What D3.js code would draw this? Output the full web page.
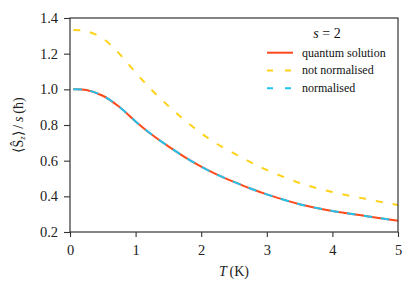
<!DOCTYPE html>
<html>
<head>
<meta charset="utf-8">
<script src="https://cdn.jsdelivr.net/npm/d3@7"></script>
<style>
  body { margin: 0; background: #fff; }
</style>
</head>
<body>
<div id="container"></div>
<script>
// temperatures (K) and <Sz>/s
const temps = [0.05, 0.25, 0.5, 0.75, 1, 1.25, 1.5, 1.75, 2, 2.25, 2.5, 2.75, 3, 3.5, 4, 4.5, 5];
const quantum = [1.0, 0.996, 0.964, 0.902, 0.82, 0.745, 0.68, 0.62, 0.566, 0.52, 0.481, 0.444, 0.411, 0.356, 0.318, 0.29, 0.263];
const notNormalised = [1.333, 1.326, 1.285, 1.2, 1.094, 0.995, 0.907, 0.826, 0.754, 0.692, 0.641, 0.592, 0.548, 0.475, 0.424, 0.386, 0.351];
const normalised = quantum.slice();
const xTicks = [0, 1, 2, 3, 4, 5];
const yTicks = [0.2, 0.4, 0.6, 0.8, 1.0, 1.2, 1.4];

const series = [
  { name: 'quantum solution', values: quantum, color: '#ff4a1c', dash: null },
  { name: 'not normalised', values: notNormalised, color: '#ffd21a', dash: '7,10' },
  { name: 'normalised', values: normalised, color: '#22c4ee', dash: '8.5,8.5' }
];

const FONT = 'Liberation Serif';

let width = 415, height = 294;
let margin = { top: 18, right: 17, bottom: 62, left: 70 };
let innerW = width - margin.left - margin.right;
let innerH = height - margin.top - margin.bottom;

let svg = d3.select('#container').append('svg')
  .attr('width', width)
  .attr('height', height)
  .attr('font-family', FONT);

let x = d3.scaleLinear().domain([0, 5]).range([margin.left, margin.left + innerW]);
let y = d3.scaleLinear().domain([0.2, 1.4]).range([margin.top + innerH, margin.top]);

// lines
let line = d3.line()
  .x((d) => x(d[0]))
  .y((d) => y(d[1]))
  .curve(d3.curveCatmullRom.alpha(0.5));

series.forEach((s) => {
  svg.append('path')
    .datum(temps.map((t, i) => [t, s.values[i]]))
    .attr('d', line)
    .attr('fill', 'none')
    .attr('stroke', s.color)
    .attr('stroke-width', 2)
    .attr('stroke-dasharray', s.dash);
});

// frame
svg.append('rect')
  .attr('x', margin.left)
  .attr('y', margin.top)
  .attr('width', innerW)
  .attr('height', innerH)
  .attr('fill', 'none')
  .attr('stroke', '#333')
  .attr('stroke-width', 1.2);

let xAxis = svg.append('g')
  .attr('transform', `translate(0,${margin.top + innerH})`)
  .call(d3.axisBottom(x).tickValues(xTicks).tickFormat(d3.format('d')).tickSize(5).tickPadding(8));

let yAxis = svg.append('g')
  .attr('transform', `translate(${margin.left},0)`)
  .call(d3.axisLeft(y).tickValues(yTicks).tickFormat(d3.format('.1f')).tickSize(6).tickPadding(6));

[xAxis, yAxis].forEach((g) => {
  g.attr('font-family', FONT).attr('font-size', 14.5);
  g.select('.domain').remove();
  g.selectAll('line').attr('stroke', '#333').attr('stroke-width', 1.1);
  g.selectAll('text').attr('fill', '#222');
});

// axis labels
let xLabel = svg.append('text')
  .attr('x', x(2.5))
  .attr('y', 276)
  .attr('text-anchor', 'middle')
  .attr('fill', '#222')
  .attr('font-size', 14);
xLabel.append('tspan').attr('font-style', 'italic').text('T');
xLabel.append('tspan').text('\u2009(K)');

let yLabel = svg.append('text')
  .attr('transform', `translate(23,${margin.top + innerH / 2}) rotate(-90)`)
  .attr('text-anchor', 'middle')
  .attr('fill', '#222')
  .attr('font-size', 14);
yLabel.append('tspan').text('\u27E8');
yLabel.append('tspan').text('\u015C');
yLabel.append('tspan').attr('font-style', 'italic').attr('font-size', 8.5).attr('dy', 2).text('z');
yLabel.append('tspan').attr('dy', -2).text('\u27E9\u2009/\u2009');
yLabel.append('tspan').attr('font-style', 'italic').text('s');
yLabel.append('tspan').text('\u2009(\u0127)');

// legend
let legend = svg.append('g');
let title = legend.append('text')
  .attr('x', 327)
  .attr('y', 37.5)
  .attr('text-anchor', 'middle')
  .attr('fill', '#111')
  .attr('font-size', 14);
title.append('tspan').attr('font-style', 'italic').text('s');
title.append('tspan').text(' = 2');

series.forEach((s, i) => {
  let yy = 52.7 + i * 17.8;
  legend.append('line')
    .attr('x1', 267)
    .attr('x2', 293)
    .attr('y1', yy)
    .attr('y2', yy)
    .attr('stroke', s.color)
    .attr('stroke-width', 2)
    .attr('stroke-dasharray', s.dash ? '6,12' : null);
  legend.append('text')
    .attr('x', 302)
    .attr('y', yy + 3.8)
    .attr('fill', '#111')
    .attr('font-size', 12)
    .text(s.name);
});
</script>
</body>
</html>
